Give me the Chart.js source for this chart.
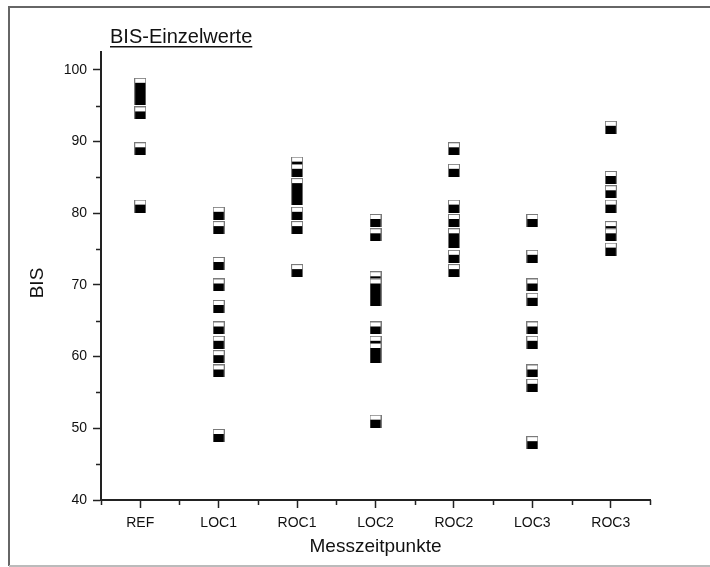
<!DOCTYPE html>
<html>
<head>
<meta charset="utf-8">
<script src="https://cdn.jsdelivr.net/npm/chart.js@4/dist/chart.umd.min.js"></script>
<style>
  html, body { margin: 0; padding: 0; background: #fff; }
  #wrap { width: 710px; height: 567px; }
</style>
</head>
<body>
<div id="wrap"><canvas id="myChart" width="710" height="567"></canvas></div>
<script>
// categories on the x axis
var categories = ['REF', 'LOC1', 'ROC1', 'LOC2', 'ROC2', 'LOC3', 'ROC3'];

// single BIS values per time point (in drawing order)
var refVals  = [81, 89, 94, 96, 97, 98];
var loc1Vals = [49, 58, 60, 62, 64, 67, 70, 73, 78, 80];
var roc1Vals = [72, 78, 80, 82, 83, 84, 87, 86];
var loc2Vals = [51, 60, 62, 61, 64, 68, 69, 71, 70, 77, 79];
var roc2Vals = [72, 74, 76, 77, 79, 81, 86, 89];
var loc3Vals = [48, 56, 58, 62, 64, 68, 70, 74, 79];
var roc3Vals = [75, 78, 77, 81, 83, 85, 92];

var yTicks = [40, 50, 60, 70, 80, 90, 100];
var yMinorTicks = [45, 55, 65, 75, 85, 95];
var xMinorTicks = [0.5, 1.5, 2.5, 3.5, 4.5, 5.5, 6.5, 7.5];

var allVals = [refVals, loc1Vals, roc1Vals, loc2Vals, roc2Vals, loc3Vals, roc3Vals];
var points = [];
allVals.forEach(function(vals, idx) {
  vals.forEach(function(v) {
    points.push({x: idx + 1, y: v});
  });
});

// half filled square marker
var marker = document.createElement('canvas');
marker.width = 12;
marker.height = 13;
var mctx = marker.getContext('2d');
mctx.fillStyle = '#7a7a7a';
mctx.fillRect(0, 0, 12, 13);
mctx.fillStyle = '#ffffff';
mctx.fillRect(1, 1, 10, 4);
mctx.fillStyle = '#000000';
mctx.fillRect(1, 5, 10, 8);

var extras = {
  id: 'extras',
  afterDraw: function(chart) {
    var ctx = chart.ctx;
    var xs = chart.scales.x;
    var ys = chart.scales.y;
    ctx.save();

    // frame
    ctx.strokeStyle = '#666';
    ctx.lineWidth = 2;
    ctx.beginPath();
    ctx.moveTo(710, 7);
    ctx.lineTo(9, 7);
    ctx.lineTo(9, 566);
    ctx.stroke();
    ctx.strokeStyle = '#bbb';
    ctx.beginPath();
    ctx.moveTo(9, 566);
    ctx.lineTo(710, 566);
    ctx.stroke();

    // minor ticks
    ctx.strokeStyle = '#222';
    ctx.lineWidth = 1.5;
    ctx.beginPath();
    yMinorTicks.forEach(function(v) {
      var py = Math.round(ys.getPixelForValue(v)) + 0.5;
      ctx.moveTo(ys.right, py);
      ctx.lineTo(ys.right - 5, py);
    });
    xMinorTicks.forEach(function(v) {
      var px = Math.round(xs.getPixelForValue(v)) + 0.5;
      ctx.moveTo(px, xs.top);
      ctx.lineTo(px, xs.top + 5);
    });
    ctx.stroke();

    // title
    ctx.fillStyle = '#111';
    ctx.font = '20px "Liberation Sans", Arial, sans-serif';
    ctx.textAlign = 'left';
    ctx.textBaseline = 'alphabetic';
    var t = 'BIS-Einzelwerte';
    ctx.fillText(t, 110, 43);
    var w = ctx.measureText(t).width;
    ctx.fillRect(110, 46, w, 1.5);

    // y axis title
    ctx.translate(38, 283);
    ctx.rotate(-Math.PI / 2);
    ctx.font = '19px "Liberation Sans", Arial, sans-serif';
    ctx.textAlign = 'center';
    ctx.textBaseline = 'middle';
    ctx.fillText('BIS', 0, 0);
    ctx.restore();
  }
};

var ctx = document.getElementById('myChart').getContext('2d');
var myChart = new Chart(ctx, {
  type: 'scatter',
  data: {
    datasets: [{
      label: 'BIS',
      data: points,
      pointStyle: marker,
      pointRadius: 6,
      pointHoverRadius: 6
    }]
  },
  options: {
    responsive: false,
    animation: false,
    layout: { padding: { left: 0, right: 60, top: 52, bottom: 0 } },
    plugins: {
      legend: { display: false },
      tooltip: { enabled: false }
    },
    scales: {
      x: {
        type: 'linear',
        min: 0.5,
        max: 7.5,
        afterBuildTicks: function(scale) {
          scale.ticks = categories.map(function(c, i) { return {value: i + 1}; });
        },
        afterFit: function(scale) { scale.height = 67; },
        grid: { display: true, drawOnChartArea: false, drawTicks: true, tickLength: 8, tickWidth: 1.5, tickColor: '#222' },
        border: { display: true, color: '#222', width: 2 },
        ticks: {
          autoSkip: false,
          maxRotation: 0,
          padding: 7,
          color: '#111',
          font: { family: '"Liberation Sans", Arial, sans-serif', size: 14 },
          callback: function(v) { return categories[v - 1]; }
        },
        title: {
          display: true,
          text: 'Messzeitpunkte',
          color: '#111',
          padding: { top: 0, bottom: 9 },
          font: { family: '"Liberation Sans", Arial, sans-serif', size: 19 }
        }
      },
      y: {
        min: 40,
        max: 102.5,
        afterBuildTicks: function(scale) {
          scale.ticks = yTicks.map(function(v) { return {value: v}; });
        },
        afterFit: function(scale) { scale.width = 101; },
        grid: { display: true, drawOnChartArea: false, drawTicks: true, tickLength: 8, tickWidth: 1.5, tickColor: '#222' },
        border: { display: true, color: '#222', width: 2 },
        ticks: {
          padding: 6,
          color: '#111',
          font: { family: '"Liberation Sans", Arial, sans-serif', size: 14 }
        }
      }
    }
  },
  plugins: [extras]
});
</script>
</body>
</html>
